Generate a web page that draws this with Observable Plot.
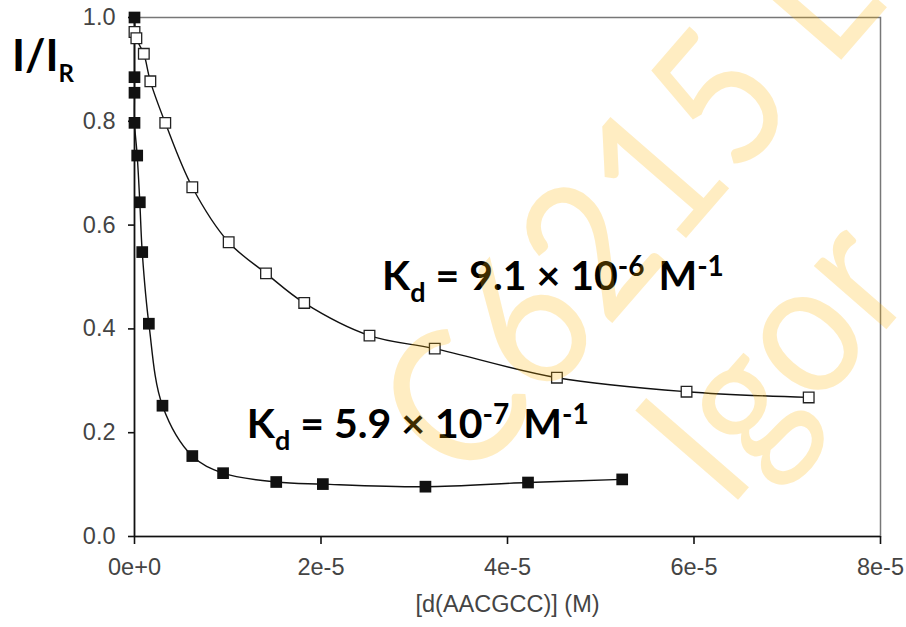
<!DOCTYPE html>
<html><head><meta charset="utf-8">
<script src="https://cdn.jsdelivr.net/npm/d3@7"></script>
<script src="https://cdn.jsdelivr.net/npm/@observablehq/plot@0.6"></script>
<style>
body{margin:0;background:#fff;}
#chart{width:906px;height:627px;}
</style></head><body><div id="chart"></div>
<script>
// ---- data ----
// filled squares (strong binder, Kd = 5.9e-7)
const filledX = [0, 0.0e-5, 0.0e-5, 0.0e-5, 0.029e-5, 0.057e-5, 0.083e-5, 0.154e-5, 0.30e-5, 0.62e-5, 0.95e-5, 1.52e-5, 2.02e-5, 3.12e-5, 4.22e-5, 5.23e-5];
const filledY = [1.0, 0.885, 0.855, 0.797, 0.734, 0.644, 0.548, 0.41, 0.252, 0.155, 0.122, 0.105, 0.101, 0.096, 0.104, 0.11];
// open squares (weak binder, Kd = 9.1e-6)
const openX = [0.0e-5, 0.02e-5, 0.10e-5, 0.17e-5, 0.33e-5, 0.62e-5, 1.01e-5, 1.41e-5, 1.82e-5, 2.52e-5, 3.22e-5, 4.53e-5, 5.92e-5, 7.23e-5];
const openY = [0.972, 0.96, 0.93, 0.877, 0.797, 0.673, 0.567, 0.507, 0.45, 0.387, 0.362, 0.306, 0.279, 0.268];
// start of both fitted curves
const curveStart = {x: 0, y: 1.0};

const xTicks = [0, 2e-5, 4e-5, 6e-5, 8e-5];
const yTicks = [0, 0.2, 0.4, 0.6, 0.8, 1.0];
const xLabel = "[d(AACGCC)] (M)";
const yLabel = {main: "I/I", sub: "R"};
const annotations = [
  {x: 2.66e-5, y: 0.474, mant: "9.1", exp: "-6"},
  {x: 1.21e-5, y: 0.189, mant: "5.9", exp: "-7"}
];
const watermarkLines = ["C6215 L", "Igor"];

// ---- build tables ----
const filled = filledX.map((x, i) => ({x, y: filledY[i]}));
const open = openX.map((x, i) => ({x, y: openY[i]}));
const openCurve = [curveStart, ...open.slice(1)];
const filledCurve = [curveStart, ...filled.slice(1)];

const chart = Plot.plot({
  width: 906, height: 627,
  marginLeft: 134, marginRight: 26, marginTop: 17, marginBottom: 91,
  style: {fontFamily: "'Liberation Sans', Arial, sans-serif", fontSize: "23.5px", background: "#fff", color: "#444"},
  x: {domain: [0, 8e-5]},
  y: {domain: [0, 1]},
  marks: [
    Plot.frame({stroke: "#777", strokeWidth: 1.5}),
    Plot.ruleX([0], {stroke: "#111", strokeWidth: 1.6}),
    Plot.ruleY([0], {stroke: "#111", strokeWidth: 1.6}),
    Plot.axisX(xTicks, {tickFormat: d3.format(".0e"), tickSize: 8, tickPadding: 14, stroke: "#111", strokeWidth: 1.6, fill: "#444", label: null}),
    Plot.axisY(yTicks, {tickFormat: d3.format(".1f"), tickSize: 6, tickPadding: 13, stroke: "#111", strokeWidth: 1.6, fill: "#444", label: null}),
    Plot.text([xLabel], {frameAnchor: "bottom", dy: 75, text: d => d, fill: "#444", fontSize: 23.5}),
    Plot.line(openCurve, {x: "x", y: "y", curve: "catmull-rom", stroke: "#111", strokeWidth: 1.4}),
    Plot.line(filledCurve, {x: "x", y: "y", curve: "catmull-rom", stroke: "#111", strokeWidth: 1.4}),
    Plot.dot(open, {x: "x", y: "y", symbol: "square", r: 6, fill: "#fff", stroke: "#222", strokeWidth: 1.3}),
    Plot.dot(filled, {x: "x", y: "y", symbol: "square", r: 6.6, fill: "#111", stroke: "none"})
  ]
});
document.getElementById("chart").appendChild(chart);

const svg = d3.select(chart);
const sx = chart.scale("x"), sy = chart.scale("y");

// y label
const yl = svg.append("text").attr("x", 12).attr("y", 71).attr("text-anchor", "start")
  .attr("font-family", "Lato, sans-serif").attr("font-weight", 700).attr("font-size", 44).attr("fill", "#000");
yl.append("tspan").text(yLabel.main);
yl.append("tspan").attr("font-size", 24).attr("dy", 11).text(yLabel.sub);

// Kd annotations
for (const a of annotations) {
  const t = svg.append("text").attr("x", sx.apply(a.x)).attr("y", sy.apply(a.y)).attr("text-anchor", "start")
    .attr("font-family", "Lato, sans-serif").attr("font-weight", 700).attr("font-size", 41).attr("fill", "#000");
  t.append("tspan").text("K");
  t.append("tspan").attr("font-size", 27).attr("dy", 12).text("d");
  t.append("tspan").attr("dy", -12).text(` = ${a.mant} × 10`);
  t.append("tspan").attr("font-size", 28).attr("dy", -14).text(a.exp);
  t.append("tspan").attr("dy", 14).attr("dx", 4).text(" M");
  t.append("tspan").attr("font-size", 28).attr("dy", -14).text("-1");
}

// watermark
const wm = svg.append("g").attr("transform", "translate(467,490) rotate(-49) scale(0.9,1)").attr("text-anchor", "start")
  .attr("font-family", "Lato, sans-serif").attr("font-size", 190)
  .attr("fill", "#FFB400").attr("fill-opacity", 0.24).style("pointer-events", "none");
wm.append("text").attr("x", 0).attr("y", 0).text(watermarkLines[0]);
wm.append("text").attr("x", 172).attr("y", 211).text(watermarkLines[1]);
</script></body></html>
